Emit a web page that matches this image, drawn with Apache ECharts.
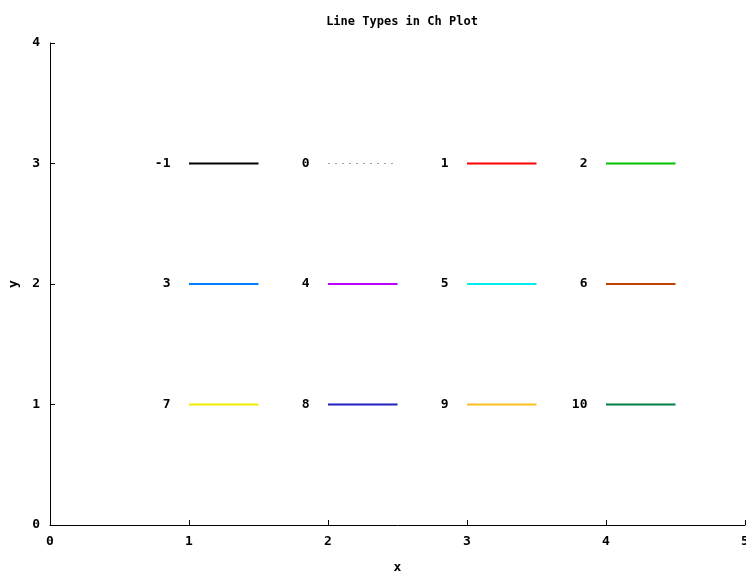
<!DOCTYPE html>
<html><head><meta charset="utf-8">
<script src="https://cdn.jsdelivr.net/npm/echarts@6/dist/echarts.min.js"></script>
<style>html,body{margin:0;padding:0;background:#fff}#c{width:746px;height:572px}</style>
</head><body><div id="c"></div>
<script>
const lineTypes = ['-1','0','1','2','3','4','5','6','7','8','9','10'];
const xStart = [1,2,3,4,1,2,3,4,1,2,3,4];
const xEnd   = [1.5,2.5,3.5,4.5,1.5,2.5,3.5,4.5,1.5,2.5,3.5,4.5];
const yPos   = [3,3,3,3,2,2,2,2,1,1,1,1];
const xTicks = [0,1,2,3,4,5];
const yTicks = [0,1,2,3,4];

const colors = ['#000000','#a0a0a0','#ff0000','#00c000','#0080ff','#c000ff','#00eeee','#c04000','#eeee00','#2020c0','#ffc020','#008040'];
const FONT = 'DejaVu Sans Mono';

const series = lineTypes.map((t,i)=>({
  type:'line',
  data:[[xStart[i],yPos[i]],[xEnd[i],yPos[i]]],
  symbol:'none',
  silent:true,
  animation:false,
  lineStyle:{color:colors[i], width: t==='0'?1.2:2, type: t==='0'?[2,5]:'solid'}
}));
series.push({
  type:'scatter',
  symbolSize:1,
  silent:true,
  animation:false,
  itemStyle:{opacity:0},
  data: lineTypes.map((t,i)=>({value:[xStart[i],yPos[i]], name:t})),
  label:{show:true, position:'left', distance:18, formatter:p=>p.name, opacity:1,
    fontFamily:FONT, fontWeight:'bold', fontSize:13, color:'#000000', textBorderWidth:0}
});

const chart = echarts.init(document.getElementById('c'));
chart.setOption({
  animation:false,
  title:{text:'Line Types in Ch Plot', left:397, top:11, textAlign:'center',
    textStyle:{fontFamily:FONT, fontWeight:'bold', fontSize:12, color:'#000'}},
  grid:{left:50, right:1, top:43, bottom:47, containLabel:false, outerBoundsMode:'none'},
  xAxis:{type:'value', min:0, max:5, interval:1, name:'x', nameLocation:'middle', nameGap:36,
    nameTextStyle:{fontFamily:FONT, fontWeight:'bold', fontSize:13, color:'#000'},
    axisLine:{lineStyle:{color:'#000', width:1}},
    axisTick:{inside:true, length:5, lineStyle:{color:'#000'}},
    axisLabel:{margin:10, fontFamily:FONT, fontWeight:'bold', fontSize:13, color:'#000',
      formatter:v=>xTicks.includes(v)?String(v):''},
    splitLine:{show:false}},
  yAxis:{type:'value', min:0, max:4, interval:1, name:'y', nameLocation:'middle', nameGap:30,
    nameRotate:90,
    nameTextStyle:{fontFamily:FONT, fontWeight:'bold', fontSize:13, color:'#000'},
    axisLine:{show:true, lineStyle:{color:'#000', width:1}},
    axisTick:{show:true, inside:true, length:5, lineStyle:{color:'#000'}},
    axisLabel:{margin:10, fontFamily:FONT, fontWeight:'bold', fontSize:13, color:'#000',
      formatter:v=>yTicks.includes(v)?String(v):''},
    splitLine:{show:false}},
  series
});
</script></body></html>
